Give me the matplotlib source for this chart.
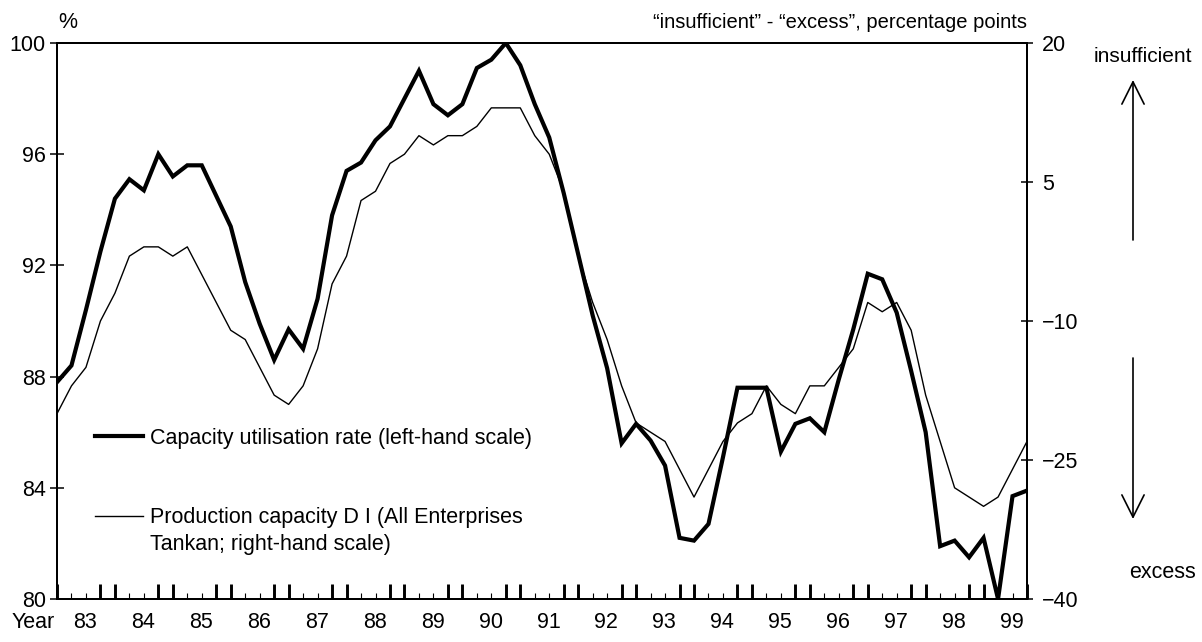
import numpy as np
import matplotlib
matplotlib.use('Agg')
import matplotlib.pyplot as plt

# quarterly data, 1983 Q1 - 1999 Q4
years = [str(y) for y in range(83, 100)]
capacity_util = [87.8, 88.4, 90.4, 92.5, 94.4, 95.1, 94.7, 96.0, 95.2, 95.6,
                 95.6, 94.5, 93.4, 91.4, 89.9, 88.6, 89.7, 89.0, 90.8, 93.8,
                 95.4, 95.7, 96.5, 97.0, 98.0, 99.0, 97.8, 97.4, 97.8, 99.1,
                 99.4, 100.0, 99.2, 97.8, 96.6, 94.6, 92.4, 90.2, 88.3, 85.6,
                 86.3, 85.7, 84.8, 82.2, 82.1, 82.7, 85.1, 87.6, 87.6, 87.6,
                 85.3, 86.3, 86.5, 86.0, 87.9, 89.7, 91.7, 91.5, 90.3, 88.2,
                 86.0, 81.9, 82.1, 81.5, 82.2, 80.0, 83.7, 83.9]
capacity_di = [-20, -17, -15, -10, -7, -3, -2, -2, -3, -2,
               -5, -8, -11, -12, -15, -18, -19, -17, -13, -6,
               -3, 3, 4, 7, 8, 10, 9, 10, 10, 11,
               13, 13, 13, 10, 8, 4, -3, -8, -12, -17,
               -21, -22, -23, -26, -29, -26, -23, -21, -20, -17,
               -19, -20, -17, -17, -15, -13, -8, -9, -8, -11,
               -18, -23, -28, -29, -30, -29, -26, -23]
left_ticks = [80, 84, 88, 92, 96, 100]
right_ticks = [-40, -25, -10, 5, 20]
label_util = 'Capacity utilisation rate (left-hand scale)'
label_di = 'Production capacity D I (All Enterprises\nTankan; right-hand scale)'

plt.rcParams['font.family'] = ['Liberation Sans', 'DejaVu Sans']
plt.rcParams['font.size'] = 15.5

fig = plt.figure(figsize=(12.02, 6.42), dpi=100)
ax = fig.add_axes([57 / 1202, 43 / 642, 970 / 1202, 556 / 642])
ax2 = ax.twinx()

q = np.arange(len(capacity_util))
l1, = ax.plot(q, capacity_util, color='black', lw=3.0, solid_joinstyle='miter')
l2, = ax2.plot(q, capacity_di, color='black', lw=1.0)

ax.set_xlim(0, len(q) - 1)
ax.set_ylim(80, 100)
ax2.set_ylim(-40, 20)

for a in (ax, ax2):
    for s in a.spines.values():
        s.set_linewidth(1.4)

ax.set_yticks(left_ticks)
ax.tick_params(axis='y', direction='inout', length=9.4, width=1.1, pad=3.4)
ax2.set_yticks(right_ticks)
ax2.tick_params(axis='y', direction='inout', length=8, width=1.1, pad=7)

# quarter ticks along the bottom: two heavy, two light per year
major = [k for k in q if k % 4 in (0, 3)]
minor = [k for k in q if k % 4 in (1, 2)]
ax.set_xticks(major)
ax.set_xticks(minor, minor=True)
ax.tick_params(axis='x', which='major', direction='in', length=10.5, width=2.1, labelbottom=False)
ax.tick_params(axis='x', which='minor', direction='in', length=4.3, width=0.8, labelbottom=False)

tr = ax.get_xaxis_transform()
for i, y in enumerate(years):
    ax.text(1.95 + 4 * i, -0.042, y, transform=tr, ha='center', va='center')
ax.text(-0.0245, -0.042, 'Year', transform=ax.transAxes, ha='center', va='center')

fig.text(68 / 1202, 1 - 22 / 642, '%', ha='center', va='center')
fig.text(1027 / 1202, 1 - 22 / 642, '\u201cinsufficient\u201d - \u201cexcess\u201d, percentage points',
         ha='right', va='center', fontsize=14.5)

# direction arrows on the right
arrow = dict(arrowstyle='->,head_length=0.8,head_width=0.4', lw=1.2, color='black',
             mutation_scale=20, shrinkA=0, shrinkB=0)
ax.annotate('', xy=(1133 / 1202, 1 - 80 / 642), xytext=(1133 / 1202, 1 - 240 / 642),
            xycoords='figure fraction', textcoords='figure fraction', arrowprops=arrow)
ax.annotate('', xy=(1133 / 1202, 1 - 519 / 642), xytext=(1133 / 1202, 1 - 358 / 642),
            xycoords='figure fraction', textcoords='figure fraction', arrowprops=arrow)
fig.text(1143 / 1202, 1 - 57 / 642, 'insufficient', ha='center', va='center', fontsize=15)
fig.text(1163 / 1202, 1 - 572 / 642, 'excess', ha='center', va='center')

leg = ax.legend([l1, l2], [label_util, label_di], loc='upper left',
                bbox_to_anchor=(0.039, 0.308), frameon=False, handlelength=2.23,
                handletextpad=0.32, labelspacing=2.7, borderpad=0, borderaxespad=0)
leg.texts[1].set_linespacing(1.39)
h = leg.legend_handles[1]
h.set_ydata(np.asarray(h.get_ydata()) + 10.8)

fig.savefig('out.png', dpi=100)
